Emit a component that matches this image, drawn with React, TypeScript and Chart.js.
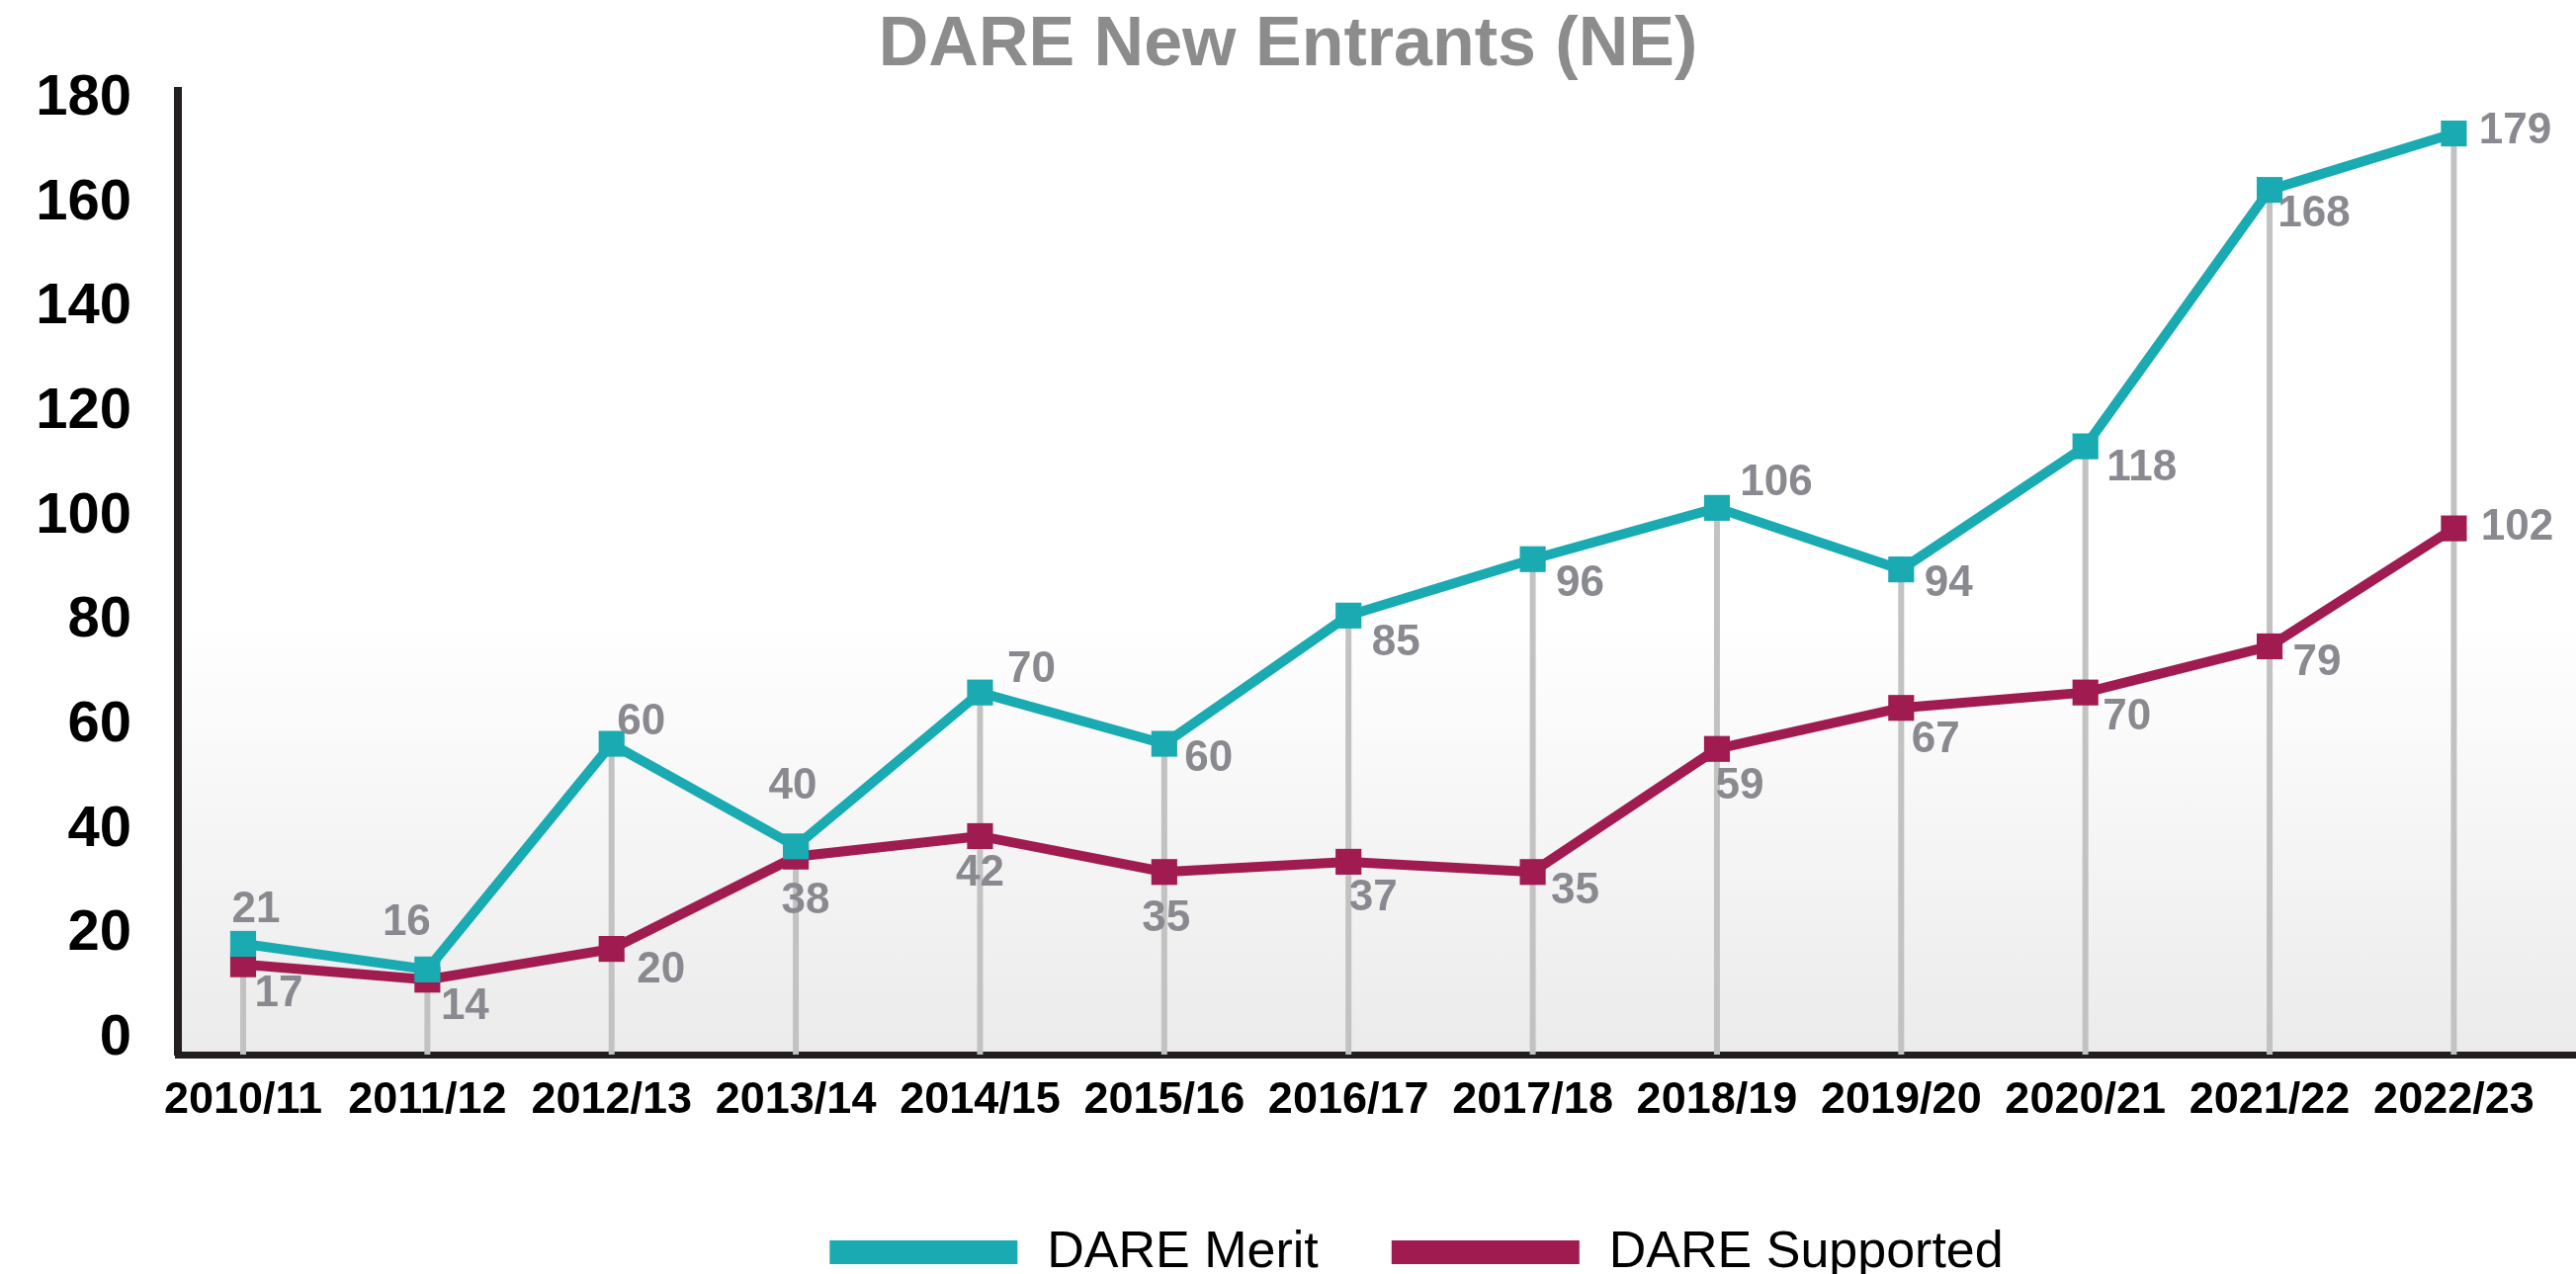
import React, { useEffect, useRef } from 'react';
import { Chart, registerables } from 'chart.js';

Chart.register(...registerables);

// ---- data ----
const categories = ['2010/11', '2011/12', '2012/13', '2013/14', '2014/15', '2015/16', '2016/17', '2017/18', '2018/19', '2019/20', '2020/21', '2021/22', '2022/23'];
const dareMerit = [21, 16, 60, 40, 70, 60, 85, 96, 106, 94, 118, 168, 179];
const dareSupported = [17, 14, 20, 38, 42, 35, 37, 35, 59, 67, 70, 79, 102];
const yTickValues = [0, 20, 40, 60, 80, 100, 120, 140, 160, 180];
const seriesNames = ['DARE Merit', 'DARE Supported'];

// ---- styling (label placement offsets in px) ----
const meritLabelOffsets = [[13, -34], [-21, -47], [30, -22], [-3, -60], [52, -23], [45, 15], [48, 28], [48, 25], [60, -25], [48, 15], [57, 22], [45, 25], [62, -2]];
const supportedLabelOffsets = [[36, 30], [38, 28], [50, 22], [10, 45], [0, 38], [2, 48], [25, 37], [43, 20], [23, 38], [35, 33], [42, 25], [48, 17], [64, -1]];
const COLORS = ['#1AAAB2', '#A01C50'];
const FONT = '"Liberation Sans", Arial, sans-serif';

const bgPlugin = {
  id: 'bgGradient',
  beforeDraw(chart: any) {
    const { ctx, chartArea } = chart;
    if (!chartArea) return;
    const g = ctx.createLinearGradient(0, chartArea.top, 0, chartArea.bottom);
    g.addColorStop(0, '#ffffff');
    g.addColorStop(0.55, '#ffffff');
    g.addColorStop(1, '#ebebeb');
    ctx.save();
    ctx.fillStyle = g;
    ctx.fillRect(chartArea.left, chartArea.top, chartArea.right - chartArea.left, chartArea.bottom - chartArea.top);
    ctx.restore();
  },
};

const dropLinePlugin = {
  id: 'dropLines',
  beforeDatasetsDraw(chart: any) {
    const { ctx, chartArea } = chart;
    const a = chart.getDatasetMeta(0).data;
    const b = chart.getDatasetMeta(1).data;
    ctx.save();
    ctx.strokeStyle = '#c2c2c2';
    ctx.lineWidth = 6;
    a.forEach((pt: any, i: number) => {
      const top = Math.min(pt.y, b[i] ? b[i].y : pt.y);
      ctx.beginPath();
      ctx.moveTo(pt.x, top);
      ctx.lineTo(pt.x, chartArea.bottom);
      ctx.stroke();
    });
    ctx.restore();
  },
};

const dataLabelPlugin = {
  id: 'dataLabels',
  afterDatasetsDraw(chart: any) {
    const { ctx } = chart;
    const offsets = [meritLabelOffsets, supportedLabelOffsets];
    ctx.save();
    ctx.font = `bold 44px ${FONT}`;
    ctx.fillStyle = '#898990';
    ctx.textAlign = 'center';
    ctx.textBaseline = 'middle';
    chart.data.datasets.forEach((ds: any, di: number) => {
      const meta = chart.getDatasetMeta(di);
      meta.data.forEach((pt: any, i: number) => {
        const off = offsets[di][i];
        ctx.fillText(String(ds.data[i].y), pt.x + off[0], pt.y + off[1]);
      });
    });
    ctx.restore();
  },
};

const legendPlugin = {
  id: 'customLegend',
  afterDraw(chart: any) {
    const { ctx, chartArea } = chart;
    const boxW = 190;
    const boxH = 24;
    const gap = 30;
    const itemGap = 74;
    ctx.save();
    ctx.font = `52px ${FONT}`;
    const items = chart.data.datasets.map((ds: any) => ({
      text: ds.label,
      color: ds.borderColor,
      w: boxW + gap + ctx.measureText(ds.label).width,
    }));
    const total = items.reduce((s: number, it: any) => s + it.w, 0) + itemGap * (items.length - 1);
    const cx = (chartArea.left + chartArea.right) / 2 + 40;
    const cy = chart.height - 22;
    let x = cx - total / 2;
    ctx.textBaseline = 'middle';
    ctx.textAlign = 'left';
    items.forEach((it: any) => {
      ctx.fillStyle = it.color;
      ctx.fillRect(x, cy - boxH / 2, boxW, boxH);
      ctx.fillStyle = '#000000';
      ctx.fillText(it.text, x + boxW + gap, cy + 1);
      x += it.w + itemGap;
    });
    ctx.restore();
  },
};

export default function App() {
  const ref = useRef<HTMLCanvasElement | null>(null);

  useEffect(() => {
    if (!ref.current) return;
    const mk = (values: number[], idx: number) => ({
      label: seriesNames[idx],
      data: values.map((v, i) => ({ x: i, y: v })),
      borderColor: COLORS[idx],
      backgroundColor: COLORS[idx],
      borderWidth: 10,
      pointStyle: 'rect',
      pointRadius: 18.5,
      pointHoverRadius: 18.5,
      pointBorderWidth: 0,
      pointBackgroundColor: COLORS[idx],
      yAxisID: 'yd',
      tension: 0,
      clip: false,
    });
    const chart = new Chart(ref.current, {
      type: 'line',
      data: {
        datasets: [mk(dareMerit, 0), mk(dareSupported, 1)] as any,
      },
      options: {
        animation: false,
        responsive: false,
        maintainAspectRatio: false,
        layout: { autoPadding: false, padding: { top: 0, right: 0, left: 0, bottom: 128 } },
        plugins: {
          legend: { display: false },
          tooltip: { enabled: false },
          title: {
            display: true,
            text: 'DARE New Entrants (NE)',
            color: '#8c8c8c',
            font: { family: FONT, size: 70, weight: 'bold' },
            padding: { top: 5, bottom: 3 },
          },
        },
        scales: {
          x: {
            type: 'linear',
            min: -0.354,
            max: 12.663,
            grid: { display: false, drawTicks: false },
            border: { display: true, color: '#231f20', width: 7 },
            afterBuildTicks: (scale: any) => {
              scale.ticks = categories.map((_, i) => ({ value: i }));
            },
            afterFit: (scale: any) => {
              scale.paddingLeft = 0;
              scale.paddingRight = 0;
            },
            ticks: {
              autoSkip: false,
              maxRotation: 0,
              minRotation: 0,
              padding: 20,
              color: '#000000',
              font: { family: FONT, size: 45, weight: 'bold' },
              callback: (v: any) => categories[v] ?? '',
            },
          },
          y: {
            type: 'linear',
            position: 'left',
            min: -3,
            max: 181.5,
            grid: { display: false, drawTicks: false },
            border: { display: true, color: '#231f20', width: 8 },
            afterBuildTicks: (scale: any) => {
              scale.ticks = yTickValues.map((v) => ({ value: v }));
            },
            afterFit: (scale: any) => {
              scale.width = 180;
            },
            ticks: {
              padding: 47,
              color: '#000000',
              font: { family: FONT, size: 58, weight: 'bold' },
            },
          },
          yd: {
            type: 'linear',
            display: false,
            min: -0.6,
            max: 187.3,
          },
        },
      } as any,
      plugins: [bgPlugin, dropLinePlugin, dataLabelPlugin, legendPlugin],
    });
    return () => chart.destroy();
  }, []);

  return (
    <canvas
      ref={ref}
      width={2606}
      height={1289}
      style={{ position: 'fixed', left: 0, top: 0, display: 'block', width: '2606px', height: '1289px' }}
    />
  );
}
